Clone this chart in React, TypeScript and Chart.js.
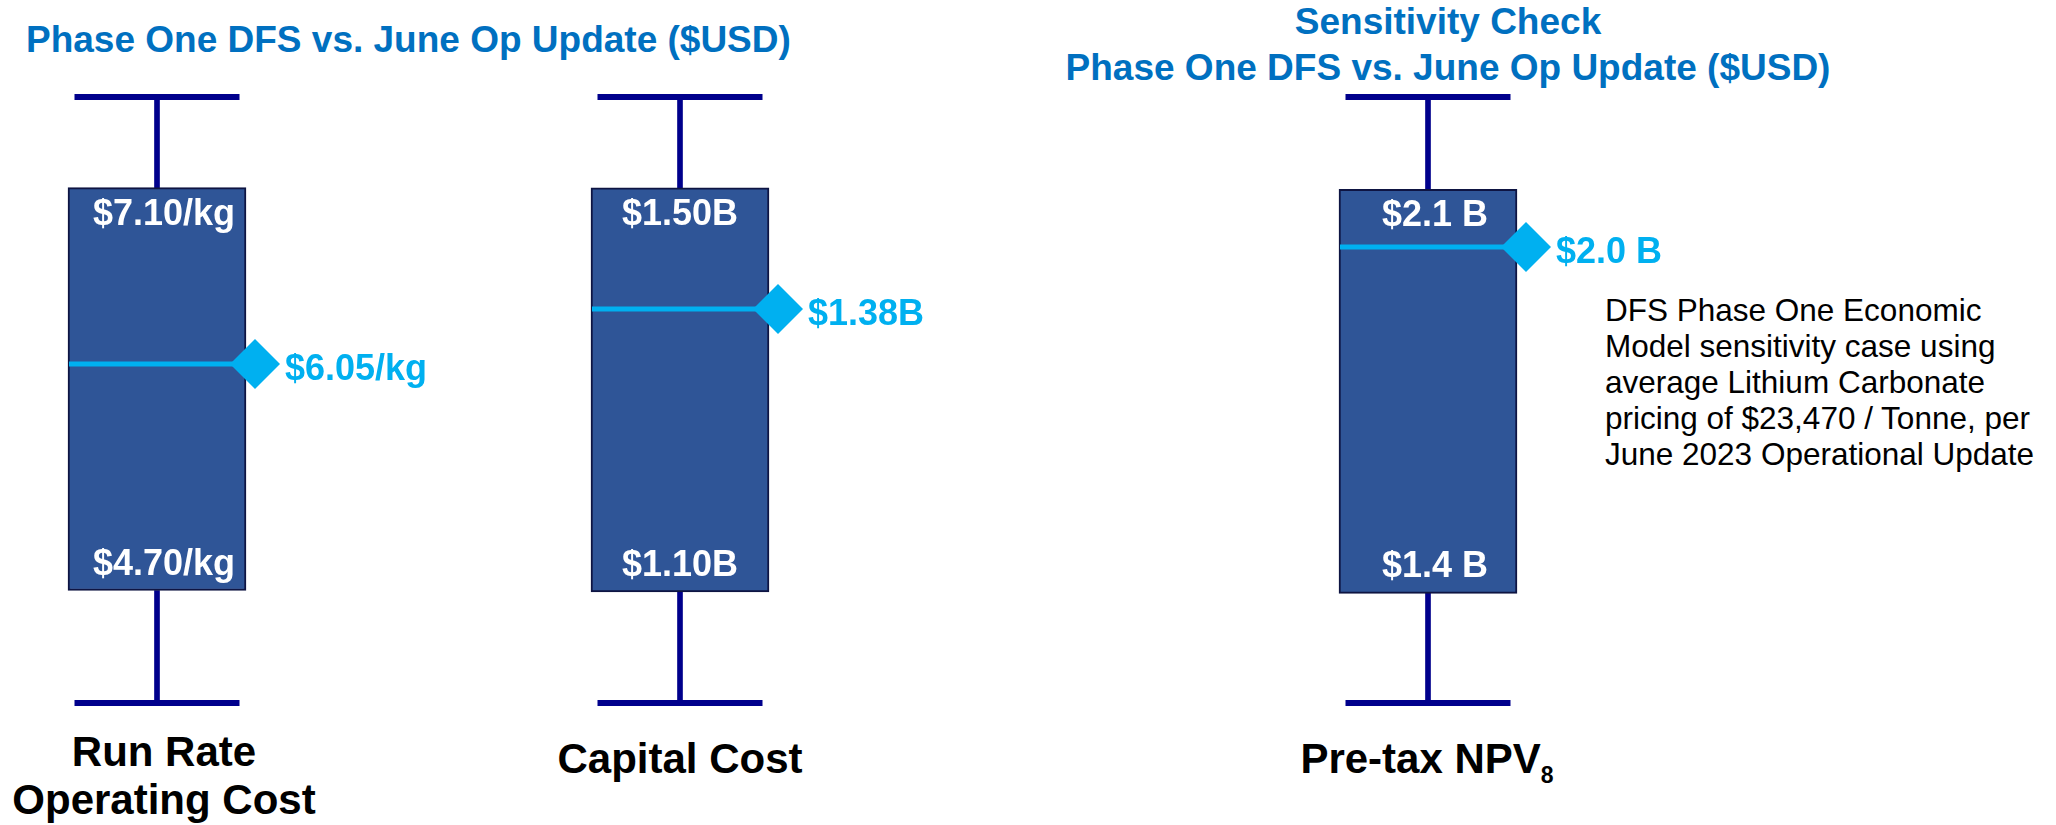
import React, { useEffect, useRef } from "react";
import { Chart, registerables } from "chart.js";

Chart.register(...registerables);

// ---------- DATA ----------
const categories = ["Run Rate Operating Cost", "Capital Cost", "Pre-tax NPV8"];
const categoryLines = [["Run Rate", "Operating Cost"], ["Capital Cost"], ["Pre-tax NPV"]];
const categorySubscripts = ["", "", "8"];
const dfsLow = [4.7, 1.1, 1.4];
const dfsHigh = [7.1, 1.5, 2.1];
const juneOpUpdate = [6.05, 1.38, 2.0];
const whiskerLow = [4.03, 0.99, 1.21];
const whiskerHigh = [7.64, 1.59, 2.26];
const valueUnits = ["/kg", "B", " B"];
const valueDecimals = [2, 2, 1];

const leftTitle = "Phase One DFS vs. June Op Update ($USD)";
const rightTitle = ["Sensitivity Check", "Phase One DFS vs. June Op Update ($USD)"];
const noteLines = [
  "DFS Phase One Economic",
  "Model sensitivity case using",
  "average Lithium Carbonate",
  "pricing of $23,470 / Tonne, per",
  "June 2023 Operational Update",
];

// ---------- LAYOUT / STYLE ----------
const FONT = '"Liberation Sans", Arial, Helvetica, sans-serif';
const BOX = "#2F5597";
const BOX_EDGE = "#0E1442";
const NAVY = "#00008C";
const CYAN = "#00B0F0";
const TITLE_BLUE = "#0070C0";
const PANEL_CENTERS = [157, 680, 1428];
const BOX_LABEL_SHIFT = [7, 0, 7];
const CAT_LABEL_CENTER = [164, 680, 1427];
const CAT_LABEL_TOP = [728, 735, 735];
const CANVAS_W = 560;
const CANVAS_H = 825;
const HALF = 140;

const fmt = (i: number, v: number) => `$${v.toFixed(valueDecimals[i])}${valueUnits[i]}`;

const overlayPlugin = {
  id: "overlay",
  afterDatasetsDraw(chart: any, _args: any, opts: any) {
    const i = opts.index as number;
    const ctx = chart.ctx as CanvasRenderingContext2D;
    const bar = chart.getDatasetMeta(0).data[0];
    const { x, width } = bar.getProps(["x", "width"], true);
    const ys = chart.scales.y;
    const yHigh = ys.getPixelForValue(dfsHigh[i]);
    const yLow = ys.getPixelForValue(dfsLow[i]);
    const yMed = ys.getPixelForValue(juneOpUpdate[i]);
    ctx.save();
    ctx.font = `bold 36px ${FONT}`;
    ctx.fillStyle = "#FFFFFF";
    ctx.textAlign = "center";
    ctx.textBaseline = "alphabetic";
    ctx.fillText(fmt(i, dfsHigh[i]), x + BOX_LABEL_SHIFT[i], yHigh + 37);
    ctx.fillText(fmt(i, dfsLow[i]), x + BOX_LABEL_SHIFT[i], yLow - 16);

    const left = x - width / 2 + 1;
    const dx = x + width / 2 + 9;
    ctx.strokeStyle = CYAN;
    ctx.lineWidth = 5;
    ctx.beginPath();
    ctx.moveTo(left, yMed);
    ctx.lineTo(dx, yMed);
    ctx.stroke();

    const r = 25;
    ctx.fillStyle = CYAN;
    ctx.beginPath();
    ctx.moveTo(dx - r, yMed);
    ctx.lineTo(dx, yMed - r);
    ctx.lineTo(dx + r, yMed);
    ctx.lineTo(dx, yMed + r);
    ctx.closePath();
    ctx.fill();

    ctx.textAlign = "left";
    ctx.fillText(fmt(i, juneOpUpdate[i]), dx + 30, yMed + 16);
    ctx.restore();
  },
};

function Panel({ i }: { i: number }) {
  const ref = useRef<HTMLCanvasElement | null>(null);
  useEffect(() => {
    if (!ref.current) return;
    const capStyle = {
      type: "line" as const,
      showLine: false,
      pointStyle: "line",
      pointRadius: 82.5,
      pointBorderWidth: 6,
      pointBorderColor: NAVY,
      pointBackgroundColor: NAVY,
      borderColor: NAVY,
      clip: false,
    };
    const chart = new Chart(ref.current, {
      type: "bar",
      data: {
        labels: [categories[i]],
        datasets: [
          {
            type: "bar",
            data: [[dfsLow[i], dfsHigh[i]]],
            backgroundColor: BOX,
            borderColor: BOX_EDGE,
            borderWidth: 2,
            borderSkipped: false,
            barThickness: 178,
            grouped: false,
            clip: false,
          },
          {
            type: "bar",
            data: [[dfsHigh[i], whiskerHigh[i]]],
            backgroundColor: NAVY,
            borderWidth: 0,
            barThickness: 5,
            grouped: false,
            clip: false,
          },
          {
            type: "bar",
            data: [[whiskerLow[i], dfsLow[i]]],
            backgroundColor: NAVY,
            borderWidth: 0,
            barThickness: 5,
            grouped: false,
            clip: false,
          },
          { ...capStyle, data: [whiskerHigh[i]] },
          { ...capStyle, data: [whiskerLow[i]] },
        ] as any,
      },
      options: {
        responsive: false,
        animation: false,
        devicePixelRatio: 1,
        events: [],
        layout: {
          autoPadding: false,
          padding: { left: 0, right: CANVAS_W - 2 * HALF, top: 97, bottom: CANVAS_H - 703 },
        },
        plugins: {
          legend: { display: false },
          tooltip: { enabled: false },
          overlay: { index: i },
        } as any,
        scales: {
          x: { display: false, offset: true },
          y: { display: false, min: whiskerLow[i], max: whiskerHigh[i] },
        },
      },
      plugins: [overlayPlugin],
    });
    return () => chart.destroy();
  }, [i]);
  return (
    <canvas
      ref={ref}
      width={CANVAS_W}
      height={CANVAS_H}
      style={{ position: "absolute", left: PANEL_CENTERS[i] - HALF, top: 0, width: CANVAS_W, height: CANVAS_H }}
    />
  );
}

export default function App() {
  return (
    <div
      style={{
        position: "fixed",
        left: 0,
        top: 0,
        width: 2056,
        height: 825,
        background: "#FFFFFF",
        overflow: "hidden",
        fontFamily: FONT,
      }}
    >
      <div
        style={{
          position: "absolute",
          left: 26,
          top: 19,
          fontSize: 37,
          lineHeight: "41px",
          fontWeight: 700,
          color: TITLE_BLUE,
          whiteSpace: "nowrap",
        }}
      >
        {leftTitle}
      </div>
      <div
        style={{
          position: "absolute",
          left: 1448 - 500,
          width: 1000,
          top: -1,
          fontSize: 37,
          lineHeight: "46px",
          fontWeight: 700,
          color: TITLE_BLUE,
          textAlign: "center",
          whiteSpace: "nowrap",
        }}
      >
        {rightTitle.map((t, k) => (
          <div key={k}>{t}</div>
        ))}
      </div>
      <div
        style={{
          position: "absolute",
          left: 1605,
          top: 292,
          fontSize: 31.5,
          lineHeight: "36px",
          color: "#000000",
          whiteSpace: "nowrap",
        }}
      >
        {noteLines.map((t, k) => (
          <div key={k}>{t}</div>
        ))}
      </div>
      {categoryLines.map((lines, i) => (
        <div
          key={i}
          style={{
            position: "absolute",
            left: CAT_LABEL_CENTER[i] - 300,
            width: 600,
            top: CAT_LABEL_TOP[i],
            fontSize: 42,
            lineHeight: "48px",
            fontWeight: 700,
            color: "#000000",
            textAlign: "center",
            whiteSpace: "nowrap",
          }}
        >
          {lines.map((t, k) => (
            <div key={k}>
              {t}
              {k === lines.length - 1 && categorySubscripts[i] ? (
                <span style={{ fontSize: 23, position: "relative", top: 10 }}>{categorySubscripts[i]}</span>
              ) : null}
            </div>
          ))}
        </div>
      ))}
      {[0, 1, 2].map((i) => (
        <Panel key={i} i={i} />
      ))}
    </div>
  );
}
